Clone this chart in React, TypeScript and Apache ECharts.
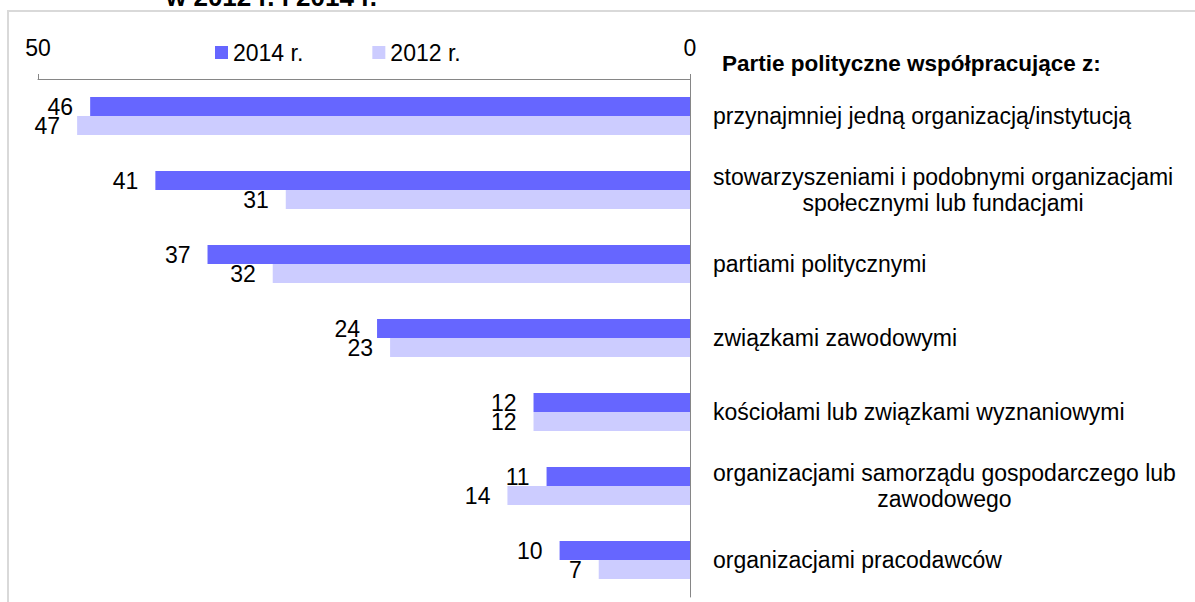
import React, { useEffect, useRef } from 'react';
import * as echarts from 'echarts';

const categories = [
  'przynajmniej jedną organizacją/instytucją',
  'stowarzyszeniami i podobnymi organizacjami\nspołecznymi lub fundacjami',
  'partiami politycznymi',
  'związkami zawodowymi',
  'kościołami lub związkami wyznaniowymi',
  'organizacjami samorządu gospodarczego lub\nzawodowego',
  'organizacjami pracodawców',
];
const series2014 = [46, 41, 37, 24, 12, 11, 10];
const series2012 = [47, 31, 32, 23, 12, 14, 7];
const seriesNames = ['2014 r.', '2012 r.'];
const axisMin = 0;
const axisMax = 50;
const heading = 'Partie polityczne współpracujące z:';
const titleText = 'w 2012 r. i 2014 r.';

const FONT = "'Liberation Sans', Arial, sans-serif";
const FS = 23;

export default function App() {
  const ref = useRef<HTMLDivElement>(null);
  useEffect(() => {
    if (!ref.current) return;
    const chart = echarts.init(ref.current, undefined, { renderer: 'svg' });
    chart.setOption({
      animation: false,
      backgroundColor: '#ffffff',
      textStyle: { fontFamily: FONT },
      graphic: [
        {
          type: 'rect',
          shape: { x: 8, y: 11, width: 1300, height: 700 },
          style: { fill: 'none', stroke: '#d9d9d9', lineWidth: 2 },
          silent: true,
        },
        {
          type: 'text',
          x: 166,
          y: 10,
          style: { text: titleText, font: `bold 26px ${FONT}`, fill: '#000', textVerticalAlign: 'bottom' },
        },
        {
          type: 'text',
          x: 722,
          y: 63,
          style: { text: heading, font: `bold 22.5px ${FONT}`, fill: '#000', textVerticalAlign: 'middle' },
        },
      ],
      legend: {
        data: seriesNames,
        left: 210,
        top: 36,
        icon: 'rect',
        itemWidth: 13,
        itemHeight: 13,
        itemGap: 69,
        textStyle: { fontSize: FS, color: '#000', fontFamily: FONT },
      },
      grid: { left: 38, right: 505, top: 79, bottom: 5, containLabel: false },
      xAxis: {
        type: 'value',
        position: 'top',
        inverse: true,
        min: axisMin,
        max: axisMax,
        interval: 50,
        axisLine: { show: true, lineStyle: { color: '#868686', width: 1 } },
        axisTick: { show: true, length: 5, lineStyle: { color: '#868686' } },
        axisLabel: { fontSize: FS, color: '#000', margin: 20, fontFamily: FONT },
        splitLine: { show: false },
      },
      yAxis: {
        type: 'category',
        data: categories,
        inverse: true,
        position: 'right',
        axisLine: { show: true, lineStyle: { color: '#868686', width: 1 } },
        axisTick: { show: false },
        axisLabel: {
          margin: 23,
          color: '#000',
          fontSize: FS,
          fontFamily: FONT,
          lineHeight: 26,
          formatter: (v: string) => {
            const lines = v.split('\n');
            if (lines.length === 1) return `{a|${lines[0]}}`;
            return `{a|${lines[0]}}\n{c|${lines[1]}}`;
          },
          rich: {
            a: { fontSize: FS, color: '#000', fontFamily: FONT, lineHeight: 26 },
            c: { fontSize: FS, color: '#000', fontFamily: FONT, lineHeight: 26, align: 'center' },
          },
        },
      },
      series: [
        {
          name: seriesNames[0],
          type: 'bar',
          data: series2014,
          barWidth: 19,
          barGap: '0%',
          itemStyle: { color: '#6666ff' },
          label: { show: true, position: 'left', distance: 17, fontSize: FS, color: '#000', fontFamily: FONT },
        },
        {
          name: seriesNames[1],
          type: 'bar',
          data: series2012,
          barWidth: 19,
          barGap: '0%',
          itemStyle: { color: '#ccccff' },
          label: { show: true, position: 'left', distance: 17, fontSize: FS, color: '#000', fontFamily: FONT },
        },
      ],
    });
    return () => chart.dispose();
  }, []);
  return (
    <div
      ref={ref}
      style={{ position: 'fixed', left: 0, top: 0, width: 1195, height: 602, background: '#fff' }}
    />
  );
}
